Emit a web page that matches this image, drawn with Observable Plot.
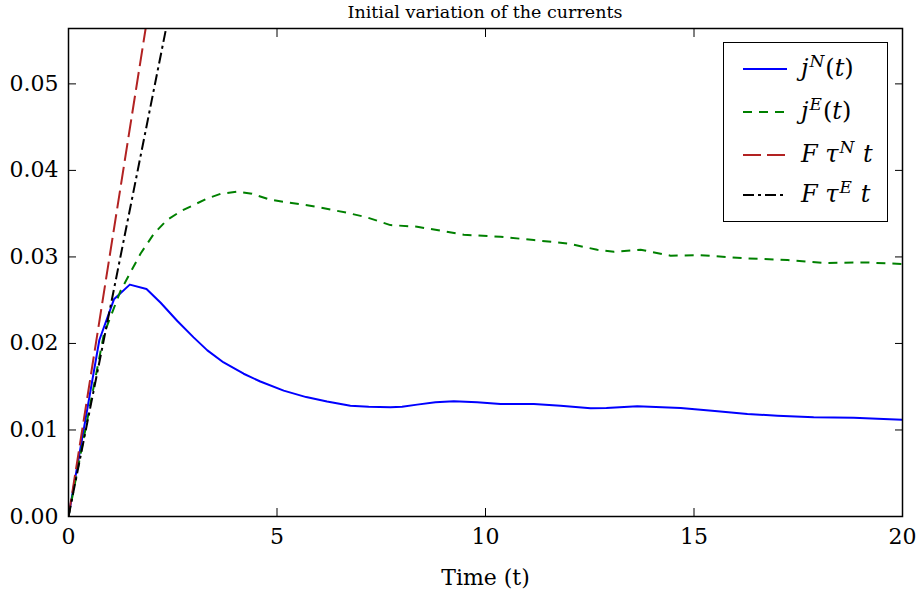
<!DOCTYPE html>
<html><head><meta charset="utf-8">
<script src="https://cdn.jsdelivr.net/npm/d3@7"></script>
<script src="https://cdn.jsdelivr.net/npm/@observablehq/plot@0.6"></script>
<style>
body{margin:0;background:#fff;}
#wrap{position:relative;width:919px;height:594px;font-family:"DejaVu Serif",serif;background:#fff;}
#title{height:22px;line-height:24px;font-size:17.5px;text-align:center;width:834px;margin-left:68px;color:#000;}
#legend{position:absolute;left:723px;top:42px;width:163px;height:178px;border:1.5px solid #000;background:#fff;box-sizing:content-box;}
.row{position:absolute;left:0;height:40px;width:100%;}
.row svg{position:absolute;left:19px;top:0;}
.row .lab{position:absolute;left:77px;top:4px;font-size:24px;font-style:italic;white-space:nowrap;line-height:30px;}
.row .lab .up{font-style:normal;}
.row .lab sup{font-size:17px;vertical-align:9px;line-height:0;margin-left:1px;margin-right:1px;}
</style></head>
<body>
<div id="wrap">
<div id="title">Initial variation of the currents</div>
<div id="chart"></div>
<div id="legend"></div>
</div>
<script>
// x ticks and y ticks
const xTicks = [0, 5, 10, 15, 20];
const yTicks = [0, 0.01, 0.02, 0.03, 0.04, 0.05];

// j^N(t)
const tN = [0, 0.74, 1.09, 1.47, 1.87, 2.21, 2.61, 3.0, 3.33, 3.72, 4.2, 4.6, 5.16, 5.7, 6.2, 6.76, 7.2, 7.72, 8.0, 8.36, 8.8, 9.24, 9.8, 10.36, 11.16, 11.8, 12.52, 12.9, 13.64, 14.68, 15.5, 16.28, 17.0, 17.87, 18.83, 19.4, 20];
const jN = [0, 0.0204, 0.0251, 0.0268, 0.0263, 0.0247, 0.0226, 0.0207, 0.0192, 0.0178, 0.0165, 0.0156, 0.01455, 0.0138, 0.01328, 0.0128, 0.01268, 0.01262, 0.01268, 0.01293, 0.0132, 0.01331, 0.0132, 0.0130, 0.0130, 0.0128, 0.0125, 0.01255, 0.01274, 0.01255, 0.0122, 0.01186, 0.01165, 0.01147, 0.0114, 0.0113, 0.01117];

// j^E(t)
const tE = [0, 0.85, 1.25, 1.73, 2.05, 2.37, 2.7, 3.0, 3.3, 3.65, 4.05, 4.4, 4.84, 5.56, 6.04, 6.68, 7.16, 7.72, 8.36, 8.92, 9.48, 10.36, 11.16, 11.96, 12.68, 13.08, 13.72, 14.44, 15.16, 16.28, 17.24, 18.11, 19.07, 20];
const jE = [0, 0.0211, 0.0261, 0.0304, 0.0327, 0.0343, 0.0353, 0.0360, 0.0367, 0.0373, 0.03755, 0.0373, 0.0366, 0.0361, 0.0357, 0.0351, 0.03457, 0.03368, 0.03349, 0.03303, 0.03256, 0.03233, 0.03195, 0.03156, 0.03083, 0.0306, 0.03083, 0.03014, 0.0302, 0.02983, 0.02964, 0.0293, 0.02937, 0.02918];

// F tau^N t and F tau^E t (straight lines, read at origin and top edge)
const tRed = [0, 1.85];
const yRed = [0, 0.0564];
const tBlack = [0, 2.34];
const yBlack = [0, 0.0564];

const yMax = 0.0564;

const toRows = (xs, ys) => xs.map((x, i) => ({x, y: ys[i]}));

const series = [
  {name: "jN", color: "#0000ff", dash: null, rows: toRows(tN, jN)},
  {name: "jE", color: "#008000", dash: "9,7", rows: toRows(tE, jE)},
  {name: "FtN", color: "#b22222", dash: "18,6", rows: toRows(tRed, yRed)},
  {name: "FtE", color: "#000000", dash: "11,4,3,4", rows: toRows(tBlack, yBlack)}
];

const lineMarks = series.map(s => Plot.line(s.rows, {
  x: "x", y: "y", stroke: s.color, strokeWidth: 2,
  strokeDasharray: s.dash, strokeLinecap: "butt", clip: true
}));

const noText = () => "";

const chart = Plot.plot({
  width: 919, height: 572,
  marginTop: 6, marginLeft: 68, marginRight: 17, marginBottom: 78,
  style: {fontFamily: "DejaVu Serif", fontSize: "22px", color: "black", background: "white", overflow: "visible"},
  x: {domain: [0, 20]},
  y: {domain: [0, yMax]},
  marks: [
    ...lineMarks,
    Plot.frame({stroke: "black", strokeWidth: 1.5}),
    Plot.axisX(xTicks, {anchor: "bottom", tickSize: -8, tickFormat: noText, label: null, strokeWidth: 1}),
    Plot.axisX(xTicks, {anchor: "top", tickSize: -8, tickFormat: noText, label: null, strokeWidth: 1}),
    Plot.axisY(yTicks, {anchor: "left", tickSize: -8, tickFormat: noText, label: null, strokeWidth: 1}),
    Plot.axisY(yTicks, {anchor: "right", tickSize: -8, tickFormat: noText, label: null, strokeWidth: 1}),
    Plot.axisX(xTicks, {anchor: "bottom", tickSize: 0, tickPadding: 12, tickFormat: d => String(d),
      label: "Time (t)", labelAnchor: "center", labelOffset: 68, labelArrow: "none"}),
    Plot.axisY(yTicks, {anchor: "left", tickSize: 0, tickPadding: 10, tickFormat: d3.format(".2f"), label: null})
  ]
});
document.getElementById("chart").appendChild(chart);

// legend
const labels = [
  '<i>j</i><sup><i>N</i></sup><span class="up">(</span><i>t</i><span class="up">)</span>',
  '<i>j</i><sup><i>E</i></sup><span class="up">(</span><i>t</i><span class="up">)</span>',
  '<i>F</i>&nbsp;<i>τ</i><sup><i>N</i></sup>&nbsp;<i>t</i>',
  '<i>F</i>&nbsp;<i>τ</i><sup><i>E</i></sup>&nbsp;<i>t</i>'
];
const rowTops = [6, 49, 92, 132];
const legend = document.getElementById("legend");
series.forEach((s, i) => {
  const row = document.createElement("div");
  row.className = "row";
  row.style.top = rowTops[i] + "px";
  row.innerHTML = `<svg width="44" height="40"><line x1="0" x2="44" y1="20" y2="20" stroke="${s.color}" stroke-width="2" ${s.dash ? `stroke-dasharray="${s.dash}"` : ""}/></svg><span class="lab">${labels[i]}</span>`;
  legend.appendChild(row);
});
</script>
</body></html>
